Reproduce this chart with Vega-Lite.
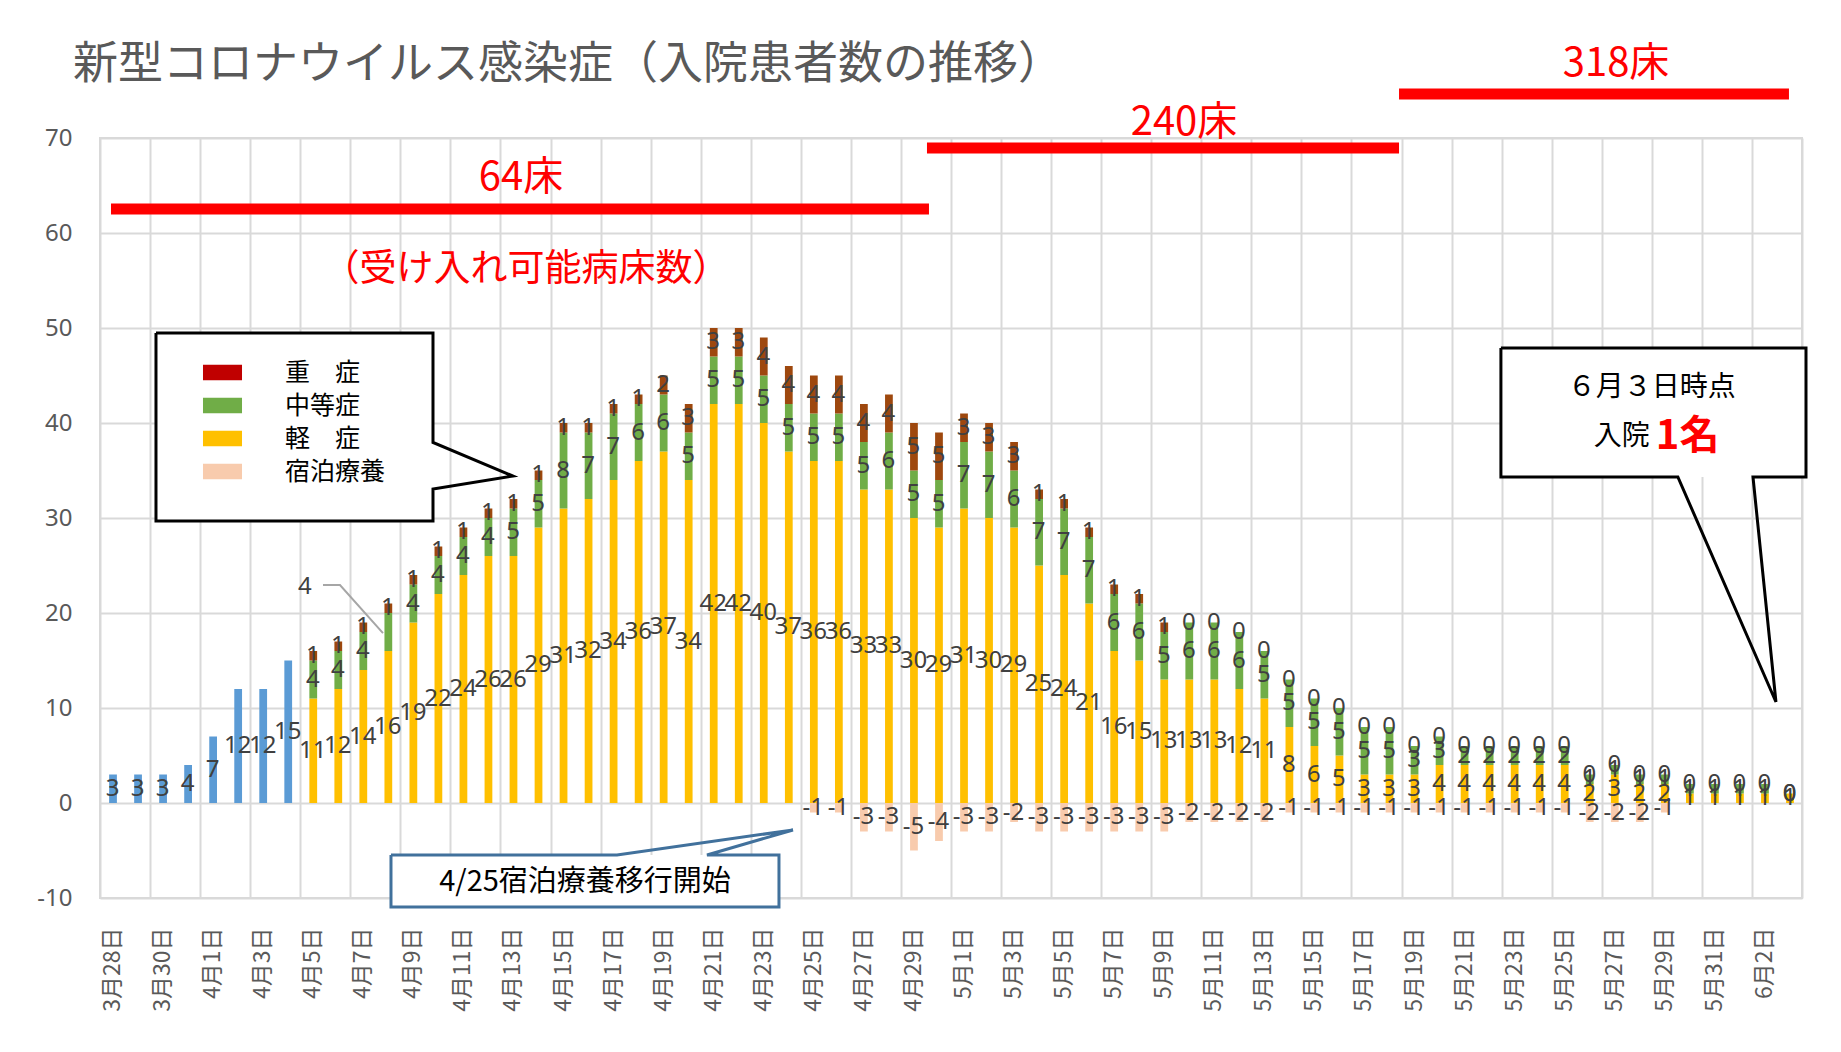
{
  "$schema": "https://vega.github.io/schema/vega-lite/v6.json",
  "width": 1702,
  "height": 760,
  "autosize": "none",
  "padding": {"left": 100, "top": 138, "right": 39, "bottom": 154},
  "background": "white",
  "title": {"text": "新型コロナウイルス感染症（入院患者数の推移）", "anchor": "start", "frame": "group", "dx": -27, "offset": -44, "fontSize": 45, "font": "Noto Sans CJK JP", "fontWeight": "normal", "color": "#595959"},
  "datasets": {
    "cases": [
      {"date":"2020-03-28","合計":3},
      {"date":"2020-03-29","合計":3},
      {"date":"2020-03-30","合計":3},
      {"date":"2020-03-31","合計":4},
      {"date":"2020-04-01","合計":7},
      {"date":"2020-04-02","合計":12},
      {"date":"2020-04-03","合計":12},
      {"date":"2020-04-04","合計":15},
      {"date":"2020-04-05","軽症":11,"中等症":4,"重症":1},
      {"date":"2020-04-06","軽症":12,"中等症":4,"重症":1},
      {"date":"2020-04-07","軽症":14,"中等症":4,"重症":1},
      {"date":"2020-04-08","軽症":16,"中等症":4,"重症":1},
      {"date":"2020-04-09","軽症":19,"中等症":4,"重症":1},
      {"date":"2020-04-10","軽症":22,"中等症":4,"重症":1},
      {"date":"2020-04-11","軽症":24,"中等症":4,"重症":1},
      {"date":"2020-04-12","軽症":26,"中等症":4,"重症":1},
      {"date":"2020-04-13","軽症":26,"中等症":5,"重症":1},
      {"date":"2020-04-14","軽症":29,"中等症":5,"重症":1},
      {"date":"2020-04-15","軽症":31,"中等症":8,"重症":1},
      {"date":"2020-04-16","軽症":32,"中等症":7,"重症":1},
      {"date":"2020-04-17","軽症":34,"中等症":7,"重症":1},
      {"date":"2020-04-18","軽症":36,"中等症":6,"重症":1},
      {"date":"2020-04-19","軽症":37,"中等症":6,"重症":2},
      {"date":"2020-04-20","軽症":34,"中等症":5,"重症":3},
      {"date":"2020-04-21","軽症":42,"中等症":5,"重症":3},
      {"date":"2020-04-22","軽症":42,"中等症":5,"重症":3},
      {"date":"2020-04-23","軽症":40,"中等症":5,"重症":4},
      {"date":"2020-04-24","軽症":37,"中等症":5,"重症":4},
      {"date":"2020-04-25","軽症":36,"中等症":5,"重症":4,"宿泊療養":-1},
      {"date":"2020-04-26","軽症":36,"中等症":5,"重症":4,"宿泊療養":-1},
      {"date":"2020-04-27","軽症":33,"中等症":5,"重症":4,"宿泊療養":-3},
      {"date":"2020-04-28","軽症":33,"中等症":6,"重症":4,"宿泊療養":-3},
      {"date":"2020-04-29","軽症":30,"中等症":5,"重症":5,"宿泊療養":-5},
      {"date":"2020-04-30","軽症":29,"中等症":5,"重症":5,"宿泊療養":-4},
      {"date":"2020-05-01","軽症":31,"中等症":7,"重症":3,"宿泊療養":-3},
      {"date":"2020-05-02","軽症":30,"中等症":7,"重症":3,"宿泊療養":-3},
      {"date":"2020-05-03","軽症":29,"中等症":6,"重症":3,"宿泊療養":-2},
      {"date":"2020-05-04","軽症":25,"中等症":7,"重症":1,"宿泊療養":-3},
      {"date":"2020-05-05","軽症":24,"中等症":7,"重症":1,"宿泊療養":-3},
      {"date":"2020-05-06","軽症":21,"中等症":7,"重症":1,"宿泊療養":-3},
      {"date":"2020-05-07","軽症":16,"中等症":6,"重症":1,"宿泊療養":-3},
      {"date":"2020-05-08","軽症":15,"中等症":6,"重症":1,"宿泊療養":-3},
      {"date":"2020-05-09","軽症":13,"中等症":5,"重症":1,"宿泊療養":-3},
      {"date":"2020-05-10","軽症":13,"中等症":6,"重症":0,"宿泊療養":-2},
      {"date":"2020-05-11","軽症":13,"中等症":6,"重症":0,"宿泊療養":-2},
      {"date":"2020-05-12","軽症":12,"中等症":6,"重症":0,"宿泊療養":-2},
      {"date":"2020-05-13","軽症":11,"中等症":5,"重症":0,"宿泊療養":-2},
      {"date":"2020-05-14","軽症":8,"中等症":5,"重症":0,"宿泊療養":-1},
      {"date":"2020-05-15","軽症":6,"中等症":5,"重症":0,"宿泊療養":-1},
      {"date":"2020-05-16","軽症":5,"中等症":5,"重症":0,"宿泊療養":-1},
      {"date":"2020-05-17","軽症":3,"中等症":5,"重症":0,"宿泊療養":-1},
      {"date":"2020-05-18","軽症":3,"中等症":5,"重症":0,"宿泊療養":-1},
      {"date":"2020-05-19","軽症":3,"中等症":3,"重症":0,"宿泊療養":-1},
      {"date":"2020-05-20","軽症":4,"中等症":3,"重症":0,"宿泊療養":-1},
      {"date":"2020-05-21","軽症":4,"中等症":2,"重症":0,"宿泊療養":-1},
      {"date":"2020-05-22","軽症":4,"中等症":2,"重症":0,"宿泊療養":-1},
      {"date":"2020-05-23","軽症":4,"中等症":2,"重症":0,"宿泊療養":-1},
      {"date":"2020-05-24","軽症":4,"中等症":2,"重症":0,"宿泊療養":-1},
      {"date":"2020-05-25","軽症":4,"中等症":2,"重症":0,"宿泊療養":-1},
      {"date":"2020-05-26","軽症":2,"中等症":1,"重症":0,"宿泊療養":-2},
      {"date":"2020-05-27","軽症":3,"中等症":1,"重症":0,"宿泊療養":-2},
      {"date":"2020-05-28","軽症":2,"中等症":1,"重症":0,"宿泊療養":-2},
      {"date":"2020-05-29","軽症":2,"中等症":1,"重症":0,"宿泊療養":-1},
      {"date":"2020-05-30","軽症":1,"中等症":1,"重症":0},
      {"date":"2020-05-31","軽症":1,"中等症":1,"重症":0},
      {"date":"2020-06-01","軽症":1,"中等症":1,"重症":0},
      {"date":"2020-06-02","軽症":1,"中等症":1,"重症":0},
      {"date":"2020-06-03","軽症":1,"中等症":0,"重症":0}
    ],
    "beds": [
      {"start":"2020-03-28T10:33:00Z","end":"2020-04-30T02:53:00Z","y":62.53},
      {"start":"2020-04-30T00:58:00Z","end":"2020-05-18T21:36:00Z","y":68.95},
      {"start":"2020-05-18T21:36:00Z","end":"2020-06-03T11:30:00Z","y":74.63}
    ],
    "boxes": [
      {"x":"2020-03-30T05:41:00Z","x2":"2020-04-10T07:18:00Z","y":49.47,"y2":29.68},
      {"x":"2020-04-08T15:01:00Z","x2":"2020-04-24T03:03:00Z","y":-5.47,"y2":-10.95},
      {"x":"2020-05-22T23:18:00Z","x2":"2020-06-04T03:50:00Z","y":47.89,"y2":34.32}
    ],
    "outlines": [
      {"shape":"legend","seq":1,"t":"2020-03-30T05:41:00Z","v":49.47},
      {"shape":"legend","seq":2,"t":"2020-04-10T07:18:00Z","v":49.47},
      {"shape":"legend","seq":3,"t":"2020-04-10T07:18:00Z","v":37.95},
      {"shape":"legend","seq":4,"t":"2020-04-13T12:00:00Z","v":34.42},
      {"shape":"legend","seq":5,"t":"2020-04-10T07:18:00Z","v":33.05},
      {"shape":"legend","seq":6,"t":"2020-04-10T07:18:00Z","v":29.68},
      {"shape":"legend","seq":7,"t":"2020-03-30T05:41:00Z","v":29.68},
      {"shape":"legend","seq":8,"t":"2020-03-30T05:41:00Z","v":49.47},
      {"shape":"june","seq":1,"t":"2020-05-22T23:18:00Z","v":47.89},
      {"shape":"june","seq":2,"t":"2020-06-04T03:50:00Z","v":47.89},
      {"shape":"june","seq":3,"t":"2020-06-04T03:50:00Z","v":34.32},
      {"shape":"june","seq":4,"t":"2020-06-02T01:00:00Z","v":34.32},
      {"shape":"june","seq":5,"t":"2020-06-02T23:02:00Z","v":10.63},
      {"shape":"june","seq":6,"t":"2020-05-30T00:58:00Z","v":34.32},
      {"shape":"june","seq":7,"t":"2020-05-22T23:18:00Z","v":34.32},
      {"shape":"june","seq":8,"t":"2020-05-22T23:18:00Z","v":47.89},
      {"shape":"note","seq":1,"t":"2020-04-08T15:01:00Z","v":-5.47},
      {"shape":"note","seq":2,"t":"2020-04-17T15:43:00Z","v":-5.47},
      {"shape":"note","seq":3,"t":"2020-04-24T16:29:00Z","v":-2.84},
      {"shape":"note","seq":4,"t":"2020-04-21T06:01:00Z","v":-5.47},
      {"shape":"note","seq":5,"t":"2020-04-24T03:03:00Z","v":-5.47},
      {"shape":"note","seq":6,"t":"2020-04-24T03:03:00Z","v":-10.95},
      {"shape":"note","seq":7,"t":"2020-04-08T15:01:00Z","v":-10.95},
      {"shape":"note","seq":8,"t":"2020-04-08T15:01:00Z","v":-5.47},
      {"shape":"leader","seq":1,"t":"2020-04-05T21:49:00Z","v":22.95},
      {"shape":"leader","seq":2,"t":"2020-04-06T14:07:00Z","v":22.95},
      {"shape":"leader","seq":3,"t":"2020-04-08T07:21:00Z","v":17.89}
    ],
    "notes": [
      {"kind":"bed","t":"2020-04-13T19:40:00Z","v":65.84,"text":"64床"},
      {"kind":"bed","t":"2020-05-10T07:26:00Z","v":71.58,"text":"240床"},
      {"kind":"bed","t":"2020-05-27T13:41:00Z","v":77.79,"text":"318床"},
      {"kind":"sub","t":"2020-04-14T00:29:00Z","v":56.1,"text":"（受け入れ可能病床数）"},
      {"kind":"note","t":"2020-04-16T09:03:00Z","v":-8.28,"text":"4/25宿泊療養移行開始"},
      {"kind":"june1","t":"2020-05-29T00:00:00Z","v":43.68,"text":"６月３日時点"},
      {"kind":"june2a","t":"2020-05-28T22:05:00Z","v":38.53,"text":"入院"},
      {"kind":"june2b","t":"2020-05-29T03:50:00Z","v":38.53,"text":"1名"}
    ]
  },
  "layer": [
    {
      "data": {"name": "cases"},
      "transform": [
        {"fold": ["合計","軽症","中等症","重症","宿泊療養"], "as": ["cat","value"]},
        {"filter": "isValid(datum.value)"},
        {"calculate": "indexof(['軽症','中等症','重症','宿泊療養','合計'], datum.cat)", "as": "k"}
      ],
      "mark": {"type": "bar", "width": {"band": 0.35}},
      "encoding": {
        "x": {"field": "date", "timeUnit": "utcyearmonthdate", "type": "temporal", "title": null,
          "scale": {"type": "utc", "domain": [{"year":2020,"month":3,"date":28,"utc":true},{"year":2020,"month":6,"date":4,"utc":true}]},
          "axis": {"values": [
            {"year":2020,"month":3,"date":28,"utc":true},{"year":2020,"month":3,"date":30,"utc":true},
            {"year":2020,"month":4,"date":1,"utc":true},{"year":2020,"month":4,"date":3,"utc":true},{"year":2020,"month":4,"date":5,"utc":true},{"year":2020,"month":4,"date":7,"utc":true},{"year":2020,"month":4,"date":9,"utc":true},{"year":2020,"month":4,"date":11,"utc":true},{"year":2020,"month":4,"date":13,"utc":true},{"year":2020,"month":4,"date":15,"utc":true},{"year":2020,"month":4,"date":17,"utc":true},{"year":2020,"month":4,"date":19,"utc":true},{"year":2020,"month":4,"date":21,"utc":true},{"year":2020,"month":4,"date":23,"utc":true},{"year":2020,"month":4,"date":25,"utc":true},{"year":2020,"month":4,"date":27,"utc":true},{"year":2020,"month":4,"date":29,"utc":true},
            {"year":2020,"month":5,"date":1,"utc":true},{"year":2020,"month":5,"date":3,"utc":true},{"year":2020,"month":5,"date":5,"utc":true},{"year":2020,"month":5,"date":7,"utc":true},{"year":2020,"month":5,"date":9,"utc":true},{"year":2020,"month":5,"date":11,"utc":true},{"year":2020,"month":5,"date":13,"utc":true},{"year":2020,"month":5,"date":15,"utc":true},{"year":2020,"month":5,"date":17,"utc":true},{"year":2020,"month":5,"date":19,"utc":true},{"year":2020,"month":5,"date":21,"utc":true},{"year":2020,"month":5,"date":23,"utc":true},{"year":2020,"month":5,"date":25,"utc":true},{"year":2020,"month":5,"date":27,"utc":true},{"year":2020,"month":5,"date":29,"utc":true},{"year":2020,"month":5,"date":31,"utc":true},
            {"year":2020,"month":6,"date":2,"utc":true},{"year":2020,"month":6,"date":4,"utc":true}],
            "labelExpr": "utcFormat(datum.value, '%m%d') == '0604' ? '' : utcFormat(datum.value, '%-m月%-d日')"}
        },
        "y": {"field": "value", "type": "quantitative", "title": null,
          "scale": {"domain": [-10, 70], "nice": false, "zero": false},
          "axis": {"values": [-10,0,10,20,30,40,50,60,70], "labelExpr": "'' + datum.value"}},
        "color": {"field": "cat", "type": "nominal",
          "scale": {"domain": ["重症","中等症","軽症","宿泊療養","合計"], "range": ["#9E480E","#70AD47","#FFC000","#F8CBAD","#5B9BD5"]},
          "legend": null},
        "order": {"field": "k", "type": "quantitative"}
      }
    },
    {
      "data": {"name": "cases"},
      "transform": [
        {"fold": ["軽症","中等症","重症","宿泊療養"], "as": ["cat","value"]},
        {"filter": "isValid(datum.value)"}
      ],
      "mark": {"type": "text", "text": ""},
      "encoding": {
        "x": {"field": "date", "timeUnit": "utcyearmonthdate", "type": "temporal", "title": null,
          "scale": {"type": "utc", "domain": [{"year":2020,"month":3,"date":28,"utc":true},{"year":2020,"month":6,"date":4,"utc":true}]}},
        "y": {"field": "value", "type": "quantitative", "title": null, "scale": {"domain": [-10, 70], "nice": false, "zero": false}},
        "fill": {"field": "cat", "type": "nominal",
          "scale": {"domain": ["重症","中等症","軽症","宿泊療養"], "range": ["#C00000","#70AD47","#FFC000","#F8CBAD"]},
          "legend": {"orient": "none", "legendX": 110, "legendY": 222, "title": null, "padding": 0,
            "symbolType": "M-1.8,-0.72H1.8V0.72H-1.8Z", "symbolSize": 470, "symbolStrokeWidth": 0, "symbolOpacity": 1,
            "labelFontSize": 25, "labelFont": "Noto Sans CJK JP", "labelColor": "#000000", "labelOffset": 50, "rowPadding": 7,
            "labelExpr": "datum.label === '重症' ? '重　症' : datum.label === '軽症' ? '軽　症' : datum.label"}}
      }
    },
    {
      "data": {"name": "cases"},
      "transform": [
        {"fold": ["合計","軽症","中等症","重症","宿泊療養"], "as": ["cat","value"]},
        {"filter": "isValid(datum.value)"},
        {"calculate": "indexof(['軽症','中等症','重症','宿泊療養','合計'], datum.cat)", "as": "k"}
      ],
      "mark": {"type": "text", "font": "Noto Sans", "fontSize": 24, "color": "#404040", "baseline": "middle"},
      "encoding": {
        "x": {"field": "date", "timeUnit": "utcyearmonthdate", "type": "temporal", "bandPosition": 0.5, "title": null,
          "scale": {"type": "utc", "domain": [{"year":2020,"month":3,"date":28,"utc":true},{"year":2020,"month":6,"date":4,"utc":true}]}},
        "y": {"field": "value", "type": "quantitative", "stack": "zero", "bandPosition": 0.5, "title": null,
          "scale": {"domain": [-10, 70], "nice": false, "zero": false}},
        "detail": {"field": "cat"},
        "order": {"field": "k", "type": "quantitative"},
        "text": {"condition": {"test": "utcFormat(datum.date, '%m%d') === '0408' && datum.cat === '中等症'", "value": ""}, "field": "value", "type": "nominal"}
      }
    },
    {
      "data": {"name": "cases"},
      "transform": [
        {"filter": "utcFormat(datum.date, '%m%d') === '0408'"},
        {"fold": ["合計","軽症","中等症","重症","宿泊療養"], "as": ["cat","value"]},
        {"filter": "isValid(datum.value)"},
        {"calculate": "indexof(['軽症','中等症','重症','宿泊療養','合計'], datum.cat)", "as": "k"}
      ],
      "mark": {"type": "text", "font": "Noto Sans", "fontSize": 24, "color": "#404040", "baseline": "middle", "dx": -83, "dy": -45},
      "encoding": {
        "x": {"field": "date", "timeUnit": "utcyearmonthdate", "type": "temporal", "bandPosition": 0.5, "title": null,
          "scale": {"type": "utc", "domain": [{"year":2020,"month":3,"date":28,"utc":true},{"year":2020,"month":6,"date":4,"utc":true}]}},
        "y": {"field": "value", "type": "quantitative", "stack": "zero", "bandPosition": 0.5, "title": null,
          "scale": {"domain": [-10, 70], "nice": false, "zero": false}},
        "detail": {"field": "cat"},
        "order": {"field": "k", "type": "quantitative"},
        "text": {"condition": {"test": "datum.cat !== '中等症'", "value": ""}, "field": "value", "type": "nominal"}
      }
    },
    {
      "data": {"name": "outlines"},
      "transform": [{"filter": "datum.shape === 'leader'"}],
      "mark": {"type": "line", "color": "#A6A6A6", "strokeWidth": 2},
      "encoding": {
        "x": {"field": "t", "type": "temporal", "title": null, "scale": {"type": "utc", "domain": [{"year":2020,"month":3,"date":28,"utc":true},{"year":2020,"month":6,"date":4,"utc":true}]}},
        "y": {"field": "v", "type": "quantitative", "title": null, "scale": {"domain": [-10, 70], "nice": false, "zero": false}},
        "order": {"field": "seq", "type": "quantitative"}
      }
    },
    {
      "data": {"name": "beds"},
      "mark": {"type": "rule", "color": "#FF0000", "strokeWidth": 11, "strokeCap": "butt"},
      "encoding": {
        "x": {"field": "start", "type": "temporal", "title": null, "scale": {"type": "utc", "domain": [{"year":2020,"month":3,"date":28,"utc":true},{"year":2020,"month":6,"date":4,"utc":true}]}},
        "x2": {"field": "end"},
        "y": {"field": "y", "type": "quantitative", "title": null, "scale": {"domain": [-10, 70], "nice": false, "zero": false}}
      }
    },
    {
      "data": {"name": "boxes"},
      "mark": {"type": "rect", "fill": "#FFFFFF", "strokeWidth": 0},
      "encoding": {
        "x": {"field": "x", "type": "temporal", "title": null, "scale": {"type": "utc", "domain": [{"year":2020,"month":3,"date":28,"utc":true},{"year":2020,"month":6,"date":4,"utc":true}]}},
        "x2": {"field": "x2"},
        "y": {"field": "y", "type": "quantitative", "title": null, "scale": {"domain": [-10, 70], "nice": false, "zero": false}},
        "y2": {"field": "y2"}
      }
    },
    {
      "data": {"name": "outlines"},
      "transform": [{"filter": "datum.shape === 'legend' || datum.shape === 'june'"}],
      "mark": {"type": "line", "color": "#000000", "strokeWidth": 3, "strokeJoin": "miter"},
      "encoding": {
        "x": {"field": "t", "type": "temporal", "title": null, "scale": {"type": "utc", "domain": [{"year":2020,"month":3,"date":28,"utc":true},{"year":2020,"month":6,"date":4,"utc":true}]}},
        "y": {"field": "v", "type": "quantitative", "title": null, "scale": {"domain": [-10, 70], "nice": false, "zero": false}},
        "detail": {"field": "shape"},
        "order": {"field": "seq", "type": "quantitative"}
      }
    },
    {
      "data": {"name": "outlines"},
      "transform": [{"filter": "datum.shape === 'note'"}],
      "mark": {"type": "line", "color": "#41719C", "strokeWidth": 3, "strokeJoin": "miter"},
      "encoding": {
        "x": {"field": "t", "type": "temporal", "title": null, "scale": {"type": "utc", "domain": [{"year":2020,"month":3,"date":28,"utc":true},{"year":2020,"month":6,"date":4,"utc":true}]}},
        "y": {"field": "v", "type": "quantitative", "title": null, "scale": {"domain": [-10, 70], "nice": false, "zero": false}},
        "order": {"field": "seq", "type": "quantitative"}
      }
    },
    {
      "data": {"name": "notes"},
      "transform": [{"filter": "datum.kind === 'bed'"}],
      "mark": {"type": "text", "font": "Noto Sans CJK JP", "fontSize": 40, "color": "#FF0000", "baseline": "middle"},
      "encoding": {
        "x": {"field": "t", "type": "temporal", "title": null, "scale": {"type": "utc", "domain": [{"year":2020,"month":3,"date":28,"utc":true},{"year":2020,"month":6,"date":4,"utc":true}]}},
        "y": {"field": "v", "type": "quantitative", "title": null, "scale": {"domain": [-10, 70], "nice": false, "zero": false}},
        "text": {"field": "text"}
      }
    },
    {
      "data": {"name": "notes"},
      "transform": [{"filter": "datum.kind === 'sub'"}],
      "mark": {"type": "text", "font": "Noto Sans CJK JP", "fontSize": 37, "color": "#FF0000", "baseline": "middle"},
      "encoding": {
        "x": {"field": "t", "type": "temporal", "title": null, "scale": {"type": "utc", "domain": [{"year":2020,"month":3,"date":28,"utc":true},{"year":2020,"month":6,"date":4,"utc":true}]}},
        "y": {"field": "v", "type": "quantitative", "title": null, "scale": {"domain": [-10, 70], "nice": false, "zero": false}},
        "text": {"field": "text"}
      }
    },
    {
      "data": {"name": "notes"},
      "transform": [{"filter": "datum.kind === 'note'"}],
      "mark": {"type": "text", "font": "Noto Sans CJK JP", "fontSize": 29, "color": "#000000", "baseline": "middle"},
      "encoding": {
        "x": {"field": "t", "type": "temporal", "title": null, "scale": {"type": "utc", "domain": [{"year":2020,"month":3,"date":28,"utc":true},{"year":2020,"month":6,"date":4,"utc":true}]}},
        "y": {"field": "v", "type": "quantitative", "title": null, "scale": {"domain": [-10, 70], "nice": false, "zero": false}},
        "text": {"field": "text"}
      }
    },
    {
      "data": {"name": "notes"},
      "transform": [{"filter": "datum.kind === 'june1'"}],
      "mark": {"type": "text", "font": "Noto Sans CJK JP", "fontSize": 28, "color": "#000000", "baseline": "middle"},
      "encoding": {
        "x": {"field": "t", "type": "temporal", "title": null, "scale": {"type": "utc", "domain": [{"year":2020,"month":3,"date":28,"utc":true},{"year":2020,"month":6,"date":4,"utc":true}]}},
        "y": {"field": "v", "type": "quantitative", "title": null, "scale": {"domain": [-10, 70], "nice": false, "zero": false}},
        "text": {"field": "text"}
      }
    },
    {
      "data": {"name": "notes"},
      "transform": [{"filter": "datum.kind === 'june2a'"}],
      "mark": {"type": "text", "font": "Noto Sans CJK JP", "fontSize": 28, "color": "#000000", "baseline": "middle", "align": "right"},
      "encoding": {
        "x": {"field": "t", "type": "temporal", "title": null, "scale": {"type": "utc", "domain": [{"year":2020,"month":3,"date":28,"utc":true},{"year":2020,"month":6,"date":4,"utc":true}]}},
        "y": {"field": "v", "type": "quantitative", "title": null, "scale": {"domain": [-10, 70], "nice": false, "zero": false}},
        "text": {"field": "text"}
      }
    },
    {
      "data": {"name": "notes"},
      "transform": [{"filter": "datum.kind === 'june2b'"}],
      "mark": {"type": "text", "font": "Noto Sans CJK JP", "fontSize": 40, "fontWeight": "bold", "color": "#FF0000", "baseline": "middle", "align": "left"},
      "encoding": {
        "x": {"field": "t", "type": "temporal", "title": null, "scale": {"type": "utc", "domain": [{"year":2020,"month":3,"date":28,"utc":true},{"year":2020,"month":6,"date":4,"utc":true}]}},
        "y": {"field": "v", "type": "quantitative", "title": null, "scale": {"domain": [-10, 70], "nice": false, "zero": false}},
        "text": {"field": "text"}
      }
    }
  ],
  "config": {
    "font": "Noto Sans CJK JP",
    "view": {"stroke": "#D9D9D9", "strokeWidth": 2},
    "axis": {"grid": true, "gridColor": "#D9D9D9", "gridWidth": 2, "domain": false, "ticks": false, "tickSize": 0, "labelColor": "#595959", "title": null, "labelOverlap": false, "labelFlush": false},
    "axisX": {"labelAngle": 270, "labelFontSize": 23, "labelPadding": 29, "labelOffset": 12.5},
    "axisY": {"labelFontSize": 24, "labelPadding": 28, "labelFont": "Noto Sans"}
  }
}
